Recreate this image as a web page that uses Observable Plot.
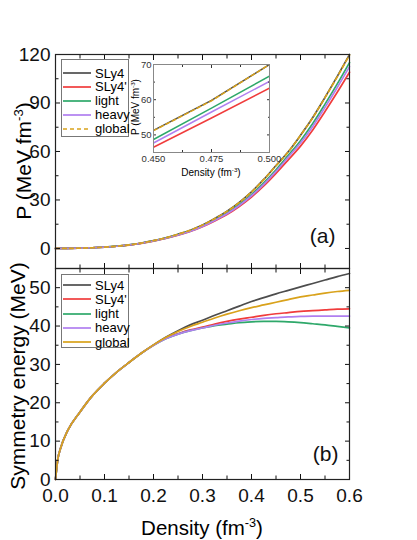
<!DOCTYPE html>
<html><head><meta charset="utf-8">
<script src="https://cdn.jsdelivr.net/npm/d3@7"></script>
<script src="https://cdn.jsdelivr.net/npm/@observablehq/plot@0.6"></script>
<style>
body{margin:0;background:#fff;}
#wrap{position:relative;width:417px;height:540px;overflow:hidden;background:#fff;font-family:"Liberation Sans",Arial,sans-serif;color:#000;}
.holder{position:absolute;}
.holder svg{overflow:visible;display:block;}
.ttl{position:absolute;white-space:nowrap;line-height:1;transform:translate(-50%,-50%) rotate(-90deg);}
.xttl{position:absolute;white-space:nowrap;line-height:1;transform:translate(-50%,-50%);}
sup{font-size:0.62em;vertical-align:0.6em;line-height:0;}
.legend{position:absolute;border:1px solid #777;background:#fff;box-sizing:border-box;}
.legend .row{position:absolute;left:0;height:14px;display:flex;align-items:center;font-size:13px;line-height:1;}
.legend svg{display:block;margin-right:3px;}
</style></head>
<body>
<div id="wrap"></div>
<script>
// ---------- data ----------
const names = ["SLy4", "SLy4'", "light", "heavy", "global"];
const seriesColors = ["#4d4d4d", "#f03c3c", "#2ea86a", "#b07ff0", "#d9a21b"];

// panel (a): pressure (MeV fm^-3) vs density (fm^-3)
const densityP = [0,0.025,0.05,0.075,0.1,0.125,0.15,0.175,0.2,0.225,0.25,0.275,0.3,0.325,0.35,0.375,0.4,0.425,0.45,0.475,0.5,0.525,0.55,0.575,0.6];
const P_SLy4   = [0,0.05,0.2,0.45,0.85,1.4,2.2,3.3,4.8,6.6,8.8,11.3,14.5,18.5,23,28.5,35,42.7,51.3,59.8,70,81,93.5,106.5,120];
const P_SLy4p  = [0,0.05,0.2,0.45,0.84,1.37,2.12,3.15,4.55,6.2,8.2,10.48,13.4,17.0,21.05,26.0,31.8,38.7,46.5,54.8,63.3,73.3,84.7,96.6,109];
const P_light  = [0,0.05,0.2,0.45,0.85,1.39,2.17,3.24,4.7,6.42,8.52,10.9,13.95,17.75,22.0,27.2,33.3,40.6,48.7,57.6,66.7,77.3,89.3,101.8,115];
const P_heavy  = [0,0.05,0.2,0.45,0.84,1.38,2.14,3.2,4.62,6.3,8.35,10.68,13.65,17.35,21.5,26.6,32.6,39.7,47.7,56.5,65.2,75.5,87.3,99.6,112.5];
const P_global = [0,0.05,0.2,0.45,0.85,1.4,2.2,3.3,4.8,6.6,8.78,11.28,14.47,18.45,22.95,28.4,34.9,42.6,51.2,59.7,70,80.9,93.3,106.2,119.7];

// panel (b): symmetry energy (MeV) vs density (fm^-3)
const densityS = [0,0.005,0.01,0.025,0.05,0.075,0.1,0.125,0.15,0.175,0.2,0.225,0.25,0.275,0.3,0.325,0.35,0.375,0.4,0.425,0.45,0.475,0.5,0.525,0.55,0.575,0.6];
const S_SLy4   = [0,5.5,8.0,12.8,17.6,21.8,25.1,28.0,30.5,32.9,35.1,37.1,38.8,40.3,41.5,42.8,44.0,45.2,46.4,47.4,48.4,49.3,50.2,51.1,52.0,52.9,53.7];
const S_SLy4p  = [0,5.5,8.0,12.8,17.6,21.8,25.1,28.0,30.5,32.9,35.0,36.8,38.0,39.0,39.7,40.5,41.2,41.8,42.3,42.8,43.2,43.5,43.8,44.0,44.2,44.4,44.5];
const S_light  = [0,5.5,8.0,12.8,17.6,21.8,25.1,28.0,30.5,32.9,35.0,36.7,37.9,38.8,39.5,40.1,40.5,40.9,41.1,41.2,41.2,41.1,40.9,40.6,40.3,39.9,39.5];
const S_heavy  = [0,5.5,8.0,12.8,17.6,21.8,25.1,28.0,30.5,32.9,35.0,36.7,37.9,38.8,39.5,40.2,40.8,41.3,41.7,42.0,42.2,42.4,42.5,42.6,42.6,42.6,42.6];
const S_global = [0,5.5,8.0,12.8,17.6,21.8,25.1,28.0,30.5,32.9,35.1,37.0,38.6,39.9,41.0,42.1,43.1,44.0,44.8,45.5,46.2,46.9,47.6,48.1,48.6,49.0,49.3];

// ticks
const xMajor = [0,0.1,0.2,0.3,0.4,0.5,0.6];
const xMinor = [0.05,0.15,0.25,0.35,0.45,0.55];
const yMajorA = [0,30,60,90,120];
const yMinorA = [15,45,75,105];
const yMajorB = [0,10,20,30,40,50];
const yMinorB = [5,15,25,35,45];
const xMajorIn = [0.45,0.475,0.5];
const xMinorIn = [0.4625,0.4875];
const yMajorIn = [50,60,70];
const yMinorIn = [55,65];

// ---------- build tables ----------
const pSeries = [P_SLy4, P_SLy4p, P_light, P_heavy, P_global];
const sSeries = [S_SLy4, S_SLy4p, S_light, S_heavy, S_global];
const pRows = names.flatMap((nm, i) => densityP.map((d, j) => ({series: nm, x: d, y: pSeries[i][j]})));
const sRows = names.flatMap((nm, i) => densityS.map((d, j) => ({series: nm, x: d, y: sSeries[i][j]})));
const colorScale = {domain: names, range: seriesColors};
const font = '"Liberation Sans", Arial, sans-serif';
const blank = () => "";

function frameTicks(xMaj, xMin, yMaj, yMin, opts) {
  const {big = 5, small = 3.5, xFmt = null, yFmt = null, xPad = 12, yPad = 10} = opts;
  return [
    Plot.axisX(xMaj, {anchor: "bottom", tickSize: -big, tickPadding: xPad, tickFormat: xFmt || blank, label: null}),
    Plot.axisX(xMin, {anchor: "bottom", tickSize: -small, tickFormat: blank, label: null}),
    Plot.axisX(xMaj, {anchor: "top", tickSize: -big, tickFormat: blank, label: null}),
    Plot.axisX(xMin, {anchor: "top", tickSize: -small, tickFormat: blank, label: null}),
    Plot.axisY(yMaj, {anchor: "left", tickSize: -big, tickPadding: yPad, tickFormat: yFmt || blank, label: null}),
    Plot.axisY(yMin, {anchor: "left", tickSize: -small, tickFormat: blank, label: null}),
    Plot.axisY(yMaj, {anchor: "right", tickSize: -big, tickFormat: blank, label: null}),
    Plot.axisY(yMin, {anchor: "right", tickSize: -small, tickFormat: blank, label: null})
  ];
}

const wrap = document.getElementById("wrap");
function place(node, left, top) {
  const h = document.createElement("div");
  h.className = "holder";
  h.style.left = left + "px";
  h.style.top = top + "px";
  h.appendChild(node);
  wrap.appendChild(h);
}

// ---------- panel (a) ----------
const plotA = Plot.plot({
  width: 417, height: 270,
  marginTop: 54, marginBottom: 2, marginLeft: 55, marginRight: 68,
  style: {background: "transparent", fontFamily: font, fontSize: "19px", color: "#111", overflow: "visible"},
  x: {domain: [0, 0.6], label: null},
  y: {domain: [-12.4, 120], label: null},
  color: colorScale,
  marks: [
    Plot.line(pRows.filter(d => d.series !== "global"), {x: "x", y: "y", stroke: "series", strokeWidth: 1.7, curve: "monotone-x"}),
    Plot.line(pRows.filter(d => d.series === "global"), {x: "x", y: "y", stroke: "series", strokeWidth: 1.7, strokeDasharray: "4,3", curve: "monotone-x"}),
    ...frameTicks(xMajor, xMinor, yMajorA, yMinorA, {yFmt: d => String(d)}),
    Plot.frame({stroke: "#222", strokeWidth: 1.2}),
    Plot.text(["(a)"], {text: d => d, frameAnchor: "bottom-right", dx: -14, dy: -26, fontSize: 21})
  ]
});
place(plotA, 0, 0);

// ---------- panel (b) ----------
const plotB = Plot.plot({
  width: 417, height: 274,
  marginTop: 2, marginBottom: 61, marginLeft: 55, marginRight: 68,
  style: {background: "transparent", fontFamily: font, fontSize: "19px", color: "#111", overflow: "visible"},
  x: {domain: [0, 0.6], label: null},
  y: {domain: [0, 55], label: null},
  color: colorScale,
  marks: [
    Plot.line(sRows, {x: "x", y: "y", stroke: "series", strokeWidth: 1.7, curve: "monotone-x"}),
    ...frameTicks(xMajor, xMinor, yMajorB, yMinorB, {xFmt: d => d.toFixed(1), yFmt: d => String(d), xPad: 13.5}),
    Plot.frame({stroke: "#222", strokeWidth: 1.2}),
    Plot.text(["(b)"], {text: d => d, frameAnchor: "bottom-right", dx: -11, dy: -18.5, fontSize: 21})
  ]
});
place(plotB, 0, 266);

// ---------- inset ----------
const inRows = pRows.filter(d => d.x >= 0.449 && d.x <= 0.501);
const plotIn = Plot.plot({
  width: 165, height: 125,
  marginTop: 9, marginBottom: 28, marginLeft: 38, marginRight: 11,
  style: {background: "transparent", fontFamily: font, fontSize: "9.5px", color: "#333", overflow: "visible"},
  x: {domain: [0.45, 0.5], label: null},
  y: {domain: [45, 70], label: null},
  color: colorScale,
  marks: [
    Plot.frame({fill: "white", stroke: "none"}),
    Plot.line(inRows.filter(d => d.series !== "global"), {x: "x", y: "y", stroke: "series", strokeWidth: 1.5, clip: true}),
    Plot.line(inRows.filter(d => d.series === "global"), {x: "x", y: "y", stroke: "series", strokeWidth: 1.5, strokeDasharray: "4,3", clip: true}),
    ...frameTicks(xMajorIn, xMinorIn, yMajorIn, yMinorIn, {big: 3, small: 2, xFmt: d => d.toFixed(3), yFmt: d => String(d), xPad: 6, yPad: 5}),
    Plot.frame({stroke: "#888", strokeWidth: 1})
  ]
});
place(plotIn, 115, 55);

// ---------- titles ----------
function addText(cls, html, x, y, size) {
  const d = document.createElement("div");
  d.className = cls;
  d.style.left = x + "px";
  d.style.top = y + "px";
  d.style.fontSize = size + "px";
  d.innerHTML = html;
  wrap.appendChild(d);
}
addText("ttl", "P (MeV fm<sup>-3</sup>)", 23, 161, 21);
addText("ttl", "Symmetry energy (MeV)", 16.5, 376, 21);
addText("xttl", "Density (fm<sup>-3</sup>)", 202, 528, 20.5);
addText("ttl", "P (MeV fm<sup>-3</sup>)", 135.5, 107, 10);
addText("xttl", "Density (fm<sup>-3</sup>)", 211, 172.5, 10);

// ---------- legends ----------
function legend(left, top, width, height, rowTops, dashedGlobal) {
  const box = document.createElement("div");
  box.className = "legend";
  Object.assign(box.style, {left: left + "px", top: top + "px", width: width + "px", height: height + "px"});
  names.forEach((nm, i) => {
    const row = document.createElement("div");
    row.className = "row";
    row.style.top = (rowTops[i] - 7) + "px";
    const ns = "http://www.w3.org/2000/svg";
    const s = document.createElementNS(ns, "svg");
    s.setAttribute("width", 30); s.setAttribute("height", 4);
    const ln = document.createElementNS(ns, "line");
    ln.setAttribute("x1", 1); ln.setAttribute("x2", 29); ln.setAttribute("y1", 2); ln.setAttribute("y2", 2);
    ln.setAttribute("stroke", seriesColors[i]); ln.setAttribute("stroke-width", 1.7);
    if (dashedGlobal && nm === "global") ln.setAttribute("stroke-dasharray", "4,3");
    s.appendChild(ln);
    row.appendChild(s);
    const t = document.createElement("span");
    t.textContent = nm;
    row.appendChild(t);
    box.appendChild(row);
  });
  wrap.appendChild(box);
}
legend(61, 59, 68, 78, [13, 26.9, 40.8, 54.7, 68.6], true);
legend(61, 274, 68, 74, [10, 24.3, 38.6, 52.9, 67.2], false);
</script>
</body></html>
